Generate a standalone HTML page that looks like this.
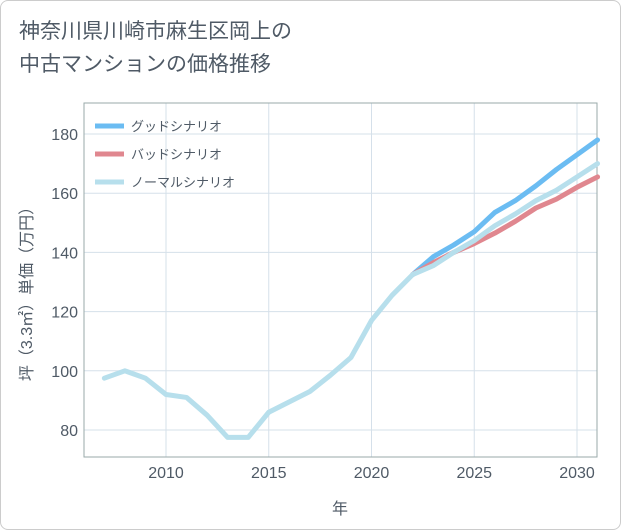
<!DOCTYPE html>
<html><head><meta charset="utf-8"><style>
body{margin:0;background:#fff;}
#wrap{position:relative;width:619px;height:528px;border:1px solid #ccc;border-radius:8px;overflow:hidden;background:#fff;font-family:"Liberation Sans","Noto Sans CJK JP",sans-serif;}
.title{position:absolute;left:18px;top:14px;font-size:21px;line-height:33px;color:#4f5a66;}
</style></head><body>
<div id="wrap">
<div class="title">神奈川県川崎市麻生区岡上の<br>中古マンションの価格推移</div>
<svg id="chart" width="621" height="530" style="position:absolute;left:-1px;top:-1px"></svg>
</div>
<script>
const years=[2007,2008,2009,2010,2011,2012,2013,2014,2015,2016,2017,2018,2019,2020,2021,2022,2023,2024,2025,2026,2027,2028,2029,2030,2031];
const normalVals=[97.5,100,97.5,92,91,85,77.5,77.5,86,89.5,93,98.5,104.5,117,125.5,132.5,135.5,140,144,149,153,157.5,161,165.5,170];
const goodYears=[2022,2023,2024,2025,2026,2027,2028,2029,2030,2031];
const goodVals=[132.5,138.5,142.5,147,153.5,157.5,162.5,168,173,178];
const badVals=[132.5,136.5,140,143,146.5,150.5,155,158,162,165.5];
const xTicks=[2010,2015,2020,2025,2030];
const yTicks=[80,100,120,140,160,180];
const legendLabels=["グッドシナリオ","バッドシナリオ","ノーマルシナリオ"];
const svg=document.getElementById('chart');const NS="http://www.w3.org/2000/svg";
const L=84,R=597,T=103,B=457;
const x=v=>166+(v-2010)*20.55;
const y=v=>430-(v-80)*2.96;
const tc='#4f5a66';
function mk(t,a,p){const e=document.createElementNS(NS,t);for(const k in a)e.setAttribute(k,a[k]);(p||svg).appendChild(e);return e;}
xTicks.forEach(t=>{const g=mk('line',{x1:x(t),x2:x(t),y1:T,y2:B,stroke:'#d5e0ea'});


const l=mk('text',{x:x(t),y:478,'text-anchor':'middle','font-size':16,fill:tc});l.textContent=t;

});
yTicks.forEach(t=>{const g=mk('line',{x1:L,x2:R,y1:y(t),y2:y(t),stroke:'#d5e0ea'});


const l=mk('text',{x:78,y:y(t)+6,'text-anchor':'end','font-size':16,fill:tc});l.textContent=t;

});
const ax=mk('rect',{x:L,y:T,width:R-L,height:B-T,fill:'none',stroke:'#9aa'});


function line(xs,vs,c,n){const p=mk('polyline',{points:xs.map((t,i)=>x(t)+','+y(vs[i])).join(' '),fill:'none',stroke:c,'stroke-width':5,'stroke-linejoin':'round','stroke-linecap':'round'});

}
line(goodYears,goodVals,'#6bbcf2','good-scenario-line');
line(goodYears,badVals,'#e0878f','bad-scenario-line');
line(years,normalVals,'#b7dfec','normal-scenario-line');
const lc=['#6bbcf2','#e0878f','#b7dfec'];
legendLabels.forEach((s,i)=>{const yy=126+i*28;
const ln=mk('line',{x1:95,x2:124,y1:yy,y2:yy,stroke:lc[i],'stroke-width':5});


const t=mk('text',{x:131,y:yy+5,'font-size':13,fill:tc});t.textContent=s;

});
const xt=mk('text',{x:340,y:514,'text-anchor':'middle','font-size':16,fill:tc});xt.textContent='年';


const yt=mk('text',{x:0,y:0,'text-anchor':'middle','font-size':16,fill:tc,transform:'translate(32,290) rotate(-90)'});yt.textContent='坪（3.3㎡）単価（万円）';


</script>
</body></html>
